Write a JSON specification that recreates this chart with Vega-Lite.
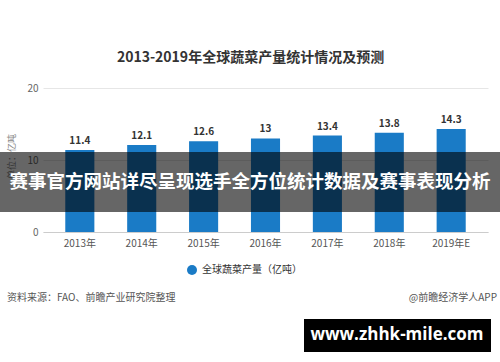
{
  "$schema": "https://vega.github.io/schema/vega-lite/v6.json",
  "autosize": "none",
  "width": 445,
  "height": 144,
  "padding": {"left": 43, "top": 88, "right": 12, "bottom": 130},
  "background": "white",
  "config": {
    "font": "Noto Sans CJK SC",
    "view": {"stroke": null}
  },
  "title": {
    "text": "2013-2019年全球蔬菜产量统计情况及预测",
    "fontSize": 14,
    "fontWeight": "bold",
    "color": "#333333",
    "anchor": "middle",
    "dx": -15,
    "offset": 18
  },
  "datasets": {
    "bars": [
      {"year": "2013年", "value": 11.4},
      {"year": "2014年", "value": 12.1},
      {"year": "2015年", "value": 12.6},
      {"year": "2016年", "value": 13},
      {"year": "2017年", "value": 13.4},
      {"year": "2018年", "value": 13.8},
      {"year": "2019年E", "value": 14.3}
    ],
    "source": [
      {"text": "资料来源：FAO、前瞻产业研究院整理"}
    ],
    "credit": [
      {"text": "@前瞻经济学人APP"}
    ],
    "banner": [
      {"text": "赛事官方网站详尽呈现选手全方位统计数据及赛事表现分析"}
    ],
    "site": [
      {"text": "www.zhhk-mile.com"}
    ]
  },
  "layer": [
    {
      "data": {"name": "bars"},
      "mark": {"type": "bar"},
      "encoding": {
        "x": {
          "field": "year",
          "type": "ordinal",
          "sort": null,
          "scale": {"paddingInner": 0.53, "paddingOuter": 0.36},
          "axis": {
            "title": null,
            "labelAngle": 0,
            "labelFontSize": 10,
            "labelColor": "#555555",
            "labelPadding": 6,
            "ticks": false,
            "domainColor": "#cccccc",
            "grid": false
          }
        },
        "y": {
          "field": "value",
          "type": "quantitative",
          "scale": {"domain": [0, 20], "nice": false},
          "axis": {
            "values": [0, 5, 10, 15, 20],
            "title": "单位：亿吨",
            "titleFontSize": 9,
            "titleFontWeight": "normal",
            "titleColor": "#888888",
            "titlePadding": 10,
            "titleY": 68,
            "labelFontSize": 10,
            "labelColor": "#666666",
            "labelPadding": 5,
            "ticks": false,
            "domain": false,
            "gridColor": "#e6e6e6"
          }
        },
        "color": {
          "datum": "全球蔬菜产量（亿吨）",
          "type": "nominal",
          "scale": {"range": ["#1a7bc6"]},
          "legend": {
            "title": null,
            "orient": "none",
            "legendX": 143,
            "legendY": 176,
            "symbolType": "circle",
            "symbolSize": 100,
            "labelFontSize": 10,
            "labelColor": "#333333"
          }
        }
      }
    },
    {
      "data": {"name": "bars"},
      "mark": {"type": "text", "dy": -9, "fontSize": 10, "fontWeight": "bold", "color": "#333333"},
      "encoding": {
        "x": {"field": "year", "type": "ordinal", "sort": null},
        "y": {"field": "value", "type": "quantitative"},
        "text": {"field": "value", "type": "quantitative"}
      }
    },
    {
      "data": {"name": "source"},
      "mark": {"type": "text", "fontSize": 10, "color": "#555555", "baseline": "middle", "align": "left"},
      "encoding": {
        "x": {"value": -36},
        "y": {"value": 210},
        "text": {"field": "text"}
      }
    },
    {
      "data": {"name": "credit"},
      "mark": {"type": "text", "fontSize": 10, "color": "#555555", "baseline": "middle", "align": "right"},
      "encoding": {
        "x": {"value": 454},
        "y": {"value": 210},
        "text": {"field": "text"}
      }
    },
    {
      "data": {"name": "banner"},
      "mark": {"type": "rect", "color": "black", "opacity": 0.6},
      "encoding": {
        "x": {"value": -43},
        "x2": {"value": 457},
        "y": {"value": 64},
        "y2": {"value": 124}
      }
    },
    {
      "data": {"name": "banner"},
      "mark": {"type": "text", "fontSize": 18.5, "fontWeight": "bold", "color": "white", "align": "center", "baseline": "middle"},
      "encoding": {
        "x": {"value": 207},
        "y": {"value": 94},
        "text": {"field": "text"}
      }
    },
    {
      "data": {"name": "site"},
      "mark": {"type": "rect", "color": "black"},
      "encoding": {
        "x": {"value": 261},
        "x2": {"value": 448},
        "y": {"value": 231},
        "y2": {"value": 264}
      }
    },
    {
      "data": {"name": "site"},
      "mark": {"type": "text", "font": "Open Sans", "fontSize": 17, "fontWeight": "bold", "color": "white", "align": "center", "baseline": "middle"},
      "encoding": {
        "x": {"value": 354},
        "y": {"value": 247},
        "text": {"field": "text"}
      }
    }
  ]
}
